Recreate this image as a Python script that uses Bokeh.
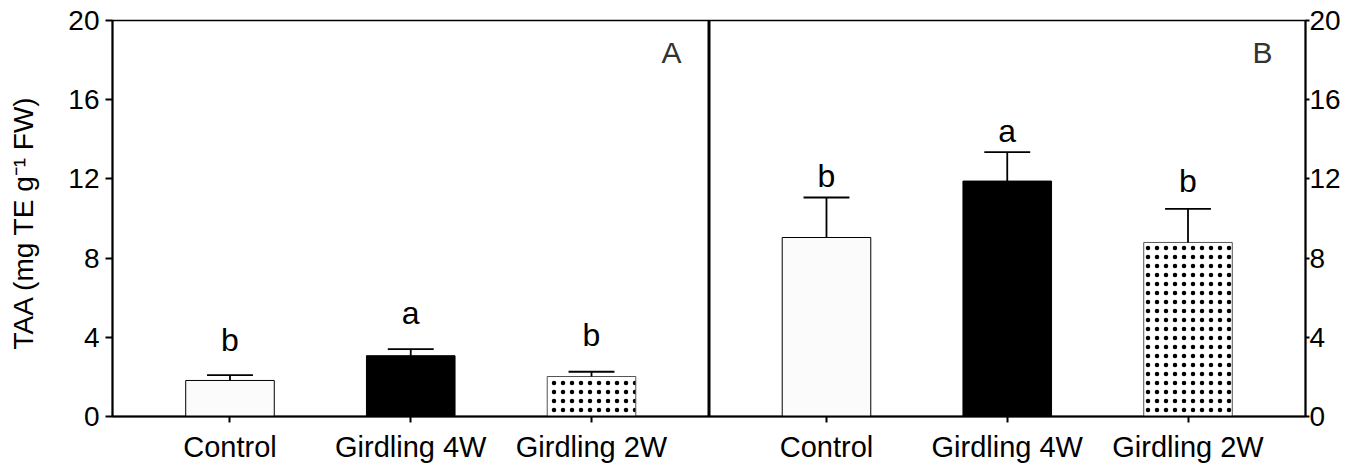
from bokeh.plotting import figure
from bokeh.models import (ColumnDataSource, FixedTicker, LinearAxis, Range1d,
                          Span, Label)
from bokeh.embed import file_html
from bokeh.resources import INLINE
from bokeh.core.properties import value

# ---- data ----
categories = ["Control", "Girdling 4W", "Girdling 2W"]
taa_a = [1.82, 3.07, 2.02]          # panel A means
err_a = [0.27, 0.33, 0.24]          # panel A SE (upper only)
taa_b = [9.04, 11.89, 8.79]         # panel B means
err_b = [2.02, 1.46, 1.70]          # panel B SE
letters_a = ["b", "a", "b"]
letters_b = ["b", "a", "b"]
letter_y_a = [3.37, 4.73, 3.62]
letter_y_b = [11.64, 13.89, 11.41]
y_ticks = [0, 4, 8, 12, 16, 20]

FONT = "Liberation Sans"
panel_offset = 3.3
bar_w = 0.49
cap_half = 0.127

fills = ["#fbfbfb", "black", "white"]
lines = ["black", "black", "#555555"]
hatches = ["blank", "blank", "dot"]

xs, tops, errs, labs, laby, cols, lcols, hps = [], [], [], [], [], [], [], []
for panel, (vals, es, lets, ly) in enumerate([(taa_a, err_a, letters_a, letter_y_a),
                                               (taa_b, err_b, letters_b, letter_y_b)]):
    for i in range(len(categories)):
        xs.append(i + panel * panel_offset)
        tops.append(vals[i])
        errs.append(vals[i] + es[i])
        labs.append(lets[i])
        laby.append(ly[i])
        cols.append(fills[i])
        lcols.append(lines[i])
        hps.append(hatches[i])

src = ColumnDataSource(dict(
    x=xs, top=tops, upper=errs, cap_l=[x - cap_half for x in xs],
    cap_r=[x + cap_half for x in xs], lab=labs, laby=laby,
    fill=cols, line=lcols, hatch=hps))

p = figure(width=1349, height=465, output_backend="svg", toolbar_location=None,
           x_range=Range1d(-0.65, 2 + panel_offset + 0.65), y_range=Range1d(0, 20),
           min_border_left=112, min_border_right=44, min_border_top=20,
           min_border_bottom=48, background_fill_color="white",
           border_fill_color="white")
p.grid.visible = False
p.outline_line_color = "black"
p.outline_line_width = 1.5

p.vbar(x="x", top="top", width=bar_w, bottom=0, source=src,
       fill_color="fill", line_color="line", line_width=1,
       hatch_pattern="hatch", hatch_color="black", hatch_scale=9,
       hatch_weight=0.8)
p.segment(x0="x", y0="top", x1="x", y1="upper", source=src,
          line_color="black", line_width=1.8)
p.segment(x0="cap_l", y0="upper", x1="cap_r", y1="upper", source=src,
          line_color="black", line_width=1.8)
p.text(x="x", y="laby", text="lab", source=src, text_align="center",
       text_baseline="alphabetic", text_font=value(FONT), y_offset=-10,
       text_font_size="32px", text_color="black")

# divider between panels
p.add_layout(Span(location=(2 + panel_offset) / 2, dimension="height",
                  line_color="black", line_width=3))

# axes
yax = p.yaxis[0]
yax.ticker = FixedTicker(ticks=y_ticks)
yax.axis_label = "TAA  (mg TE g⁻¹ FW)"
yax.axis_label_text_font = FONT
yax.axis_label_text_font_style = "normal"
yax.axis_label_text_font_size = "28px"
yax.axis_label_text_color = "black"
yax.axis_label_standoff = 26
yax.major_label_text_font = FONT
yax.major_label_text_font_size = "28px"
yax.major_label_text_color = "black"
yax.major_label_standoff = 6
yax.major_tick_out = 7
yax.major_tick_in = 0
yax.minor_tick_out = 0
yax.minor_tick_in = 0
yax.axis_line_width = 2
yax.major_tick_line_width = 2

rax = LinearAxis(ticker=FixedTicker(ticks=y_ticks))
rax.major_label_text_font = FONT
rax.major_label_text_font_size = "28px"
rax.major_label_text_color = "black"
rax.major_label_standoff = 0
rax.major_tick_out = 4
rax.major_tick_in = 0
rax.minor_tick_out = 0
rax.minor_tick_in = 0
rax.axis_line_width = 2
rax.major_tick_line_width = 2
p.add_layout(rax, "right")

xax = p.xaxis[0]
xax.ticker = FixedTicker(ticks=xs)
xax.major_label_overrides = {x: c for x, c in zip(xs, categories * 2)}
xax.major_label_text_font = FONT
xax.major_label_text_font_size = "29px"
xax.major_label_text_color = "black"
xax.major_label_standoff = 8
xax.major_tick_out = 6
xax.major_tick_in = 0
xax.minor_tick_out = 0
xax.minor_tick_in = 0
xax.axis_line_width = 2
xax.major_tick_line_width = 2

for txt, xx in [("A", 2.443), ("B", 5.712)]:
    p.add_layout(Label(x=xx, y=18.37, text=txt, text_align="center",
                       text_baseline="middle", text_font=FONT,
                       text_font_size="30px", text_color="#333333"))

open("out.html", "w").write(file_html(p, INLINE))
